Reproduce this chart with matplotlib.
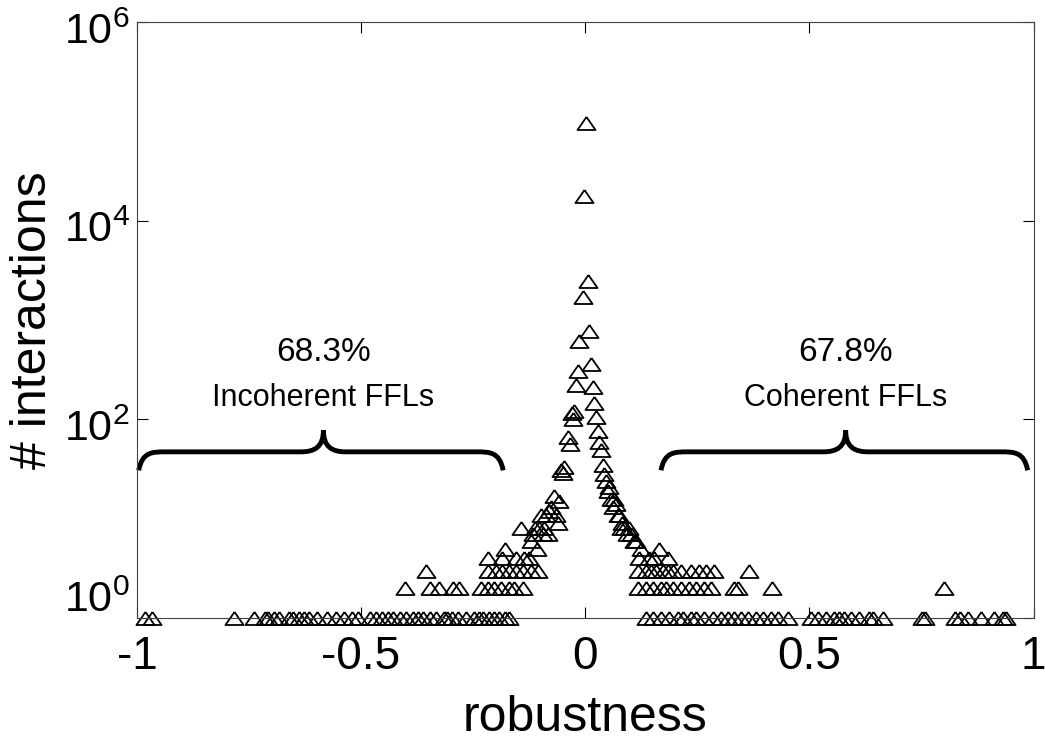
import matplotlib
matplotlib.use("Agg")
import matplotlib.pyplot as plt
import matplotlib.transforms as mtransforms
from matplotlib.path import Path
from matplotlib.patches import PathPatch

plt.rcParams['font.family'] = ['Liberation Sans', 'DejaVu Sans']
plt.rcParams['mathtext.fontset'] = 'custom'
plt.rcParams['mathtext.rm'] = 'Liberation Sans'

# robustness values of bins holding 1, 2 and 3 interactions
rob_1 = [-0.982, -0.967, -0.784, -0.739, -0.715, -0.708, -0.695, -0.682, -0.661, -0.652,
         -0.639, -0.627, -0.615, -0.599, -0.575, -0.555, -0.537, -0.520, -0.506, -0.481,
         -0.467, -0.454, -0.440, -0.428, -0.414, -0.399, -0.383, -0.372, -0.361, -0.347,
         -0.332, -0.316, -0.308, -0.298, -0.283, -0.265, -0.247, -0.238, -0.227, -0.214,
         -0.203, -0.192, -0.180, -0.171,
         0.136, 0.151, 0.169, 0.187, 0.207, 0.218, 0.236, 0.247, 0.265, 0.285,
         0.303, 0.318, 0.332, 0.347, 0.363, 0.381, 0.396, 0.414, 0.430, 0.452,
         0.503, 0.519, 0.537, 0.555, 0.566, 0.577, 0.592, 0.610, 0.633, 0.641,
         0.664, 0.751, 0.757, 0.826, 0.837, 0.853, 0.882, 0.911, 0.931, 0.938]
rob_2 = [-0.401, -0.347, -0.327, -0.294, -0.281, -0.232, -0.216, -0.203, -0.187, -0.171,
         -0.158, -0.138,
         0.118, 0.136, 0.151, 0.169, 0.180, 0.196, 0.214, 0.232, 0.247, 0.265,
         0.281, 0.332, 0.341, 0.416, 0.800]
rob_3 = [-0.356, -0.216, -0.198, -0.185, -0.169, -0.154, -0.138, -0.120, -0.105,
         0.118, 0.136, 0.147, 0.158, 0.174, 0.185, 0.196, 0.214, 0.236, 0.254,
         0.269, 0.287, 0.365]

# bins with larger counts (central peak)
rob_peak = [-0.216, -0.185, -0.178, -0.154, -0.143, -0.136, -0.125, -0.120, -0.116, -0.112,
            -0.107, -0.104, -0.098, -0.094, -0.091, -0.087, -0.082, -0.080, -0.076, -0.069,
            -0.066, -0.060, -0.058, -0.053, -0.049, -0.047, -0.038, -0.034, -0.029, -0.027,
            -0.025, -0.020, -0.016, -0.013, -0.004, -0.002,
            0.002, 0.007, 0.009, 0.013, 0.018, 0.020, 0.024, 0.029, 0.031, 0.036,
            0.040, 0.042, 0.047, 0.051, 0.053, 0.058, 0.062, 0.065, 0.069, 0.073,
            0.076, 0.080, 0.083, 0.087, 0.094, 0.098, 0.102, 0.109, 0.114, 0.120,
            0.125, 0.143, 0.154, 0.165, 0.185]
count_peak = [4, 4, 5, 4, 8, 4, 4, 6, 7, 8,
              5, 8, 11, 7, 8, 11, 7, 12, 13, 17,
              11, 9, 15, 31, 29, 33, 66, 57, 117, 102,
              123, 220, 310, 620, 1700, 18000,
              97000, 2500, 780, 365, 210, 148, 105, 77, 59, 49,
              35, 28, 24, 19, 21, 16, 13, 16, 14, 11,
              11, 8, 9, 8, 7, 8, 7, 6, 6, 4,
              5, 4, 4, 5, 4]

robustness = rob_1 + rob_2 + rob_3 + rob_peak
counts = [1] * len(rob_1) + [2] * len(rob_2) + [3] * len(rob_3) + count_peak

fig = plt.figure(figsize=(10.45, 7.42), dpi=100)
ax = fig.add_axes([0.131, 0.167, 0.858, 0.803])

tri = [(0, 0.72), (-1, -0.72), (1, -0.72), (0, 0.72)]
ax.plot(robustness, counts, linestyle='none', marker=tri, markersize=13,
        markerfacecolor='none', markeredgecolor='black', markeredgewidth=1.3,
        clip_on=False)

ax.set_yscale('log')
ax.set_xlim(-1, 1)
ax.set_ylim(1, 1e6)
ax.set_yticks([1, 1e2, 1e4, 1e6])
ax.yaxis.set_minor_locator(matplotlib.ticker.NullLocator())
ax.set_xticks([-1, -0.5, 0, 0.5, 1])
ax.set_xticklabels(['-1', '-0.5', '0', '0.5', '1'])
ax.tick_params(direction='in', length=8, width=0.8, top=True, right=True)
ax.tick_params(axis='x', pad=12, labelsize=33)
ax.tick_params(axis='y', pad=5, labelsize=31)

# 10^0 label sits a little above its tick, the others a little below
for i, tk in enumerate(ax.yaxis.get_major_ticks()):
    dy = 16 / 72 if i == 0 else -4 / 72
    tk.label1.set_transform(tk.label1.get_transform() +
                            mtransforms.ScaledTranslation(0, dy, fig.dpi_scale_trans))

for s in ax.spines.values():
    s.set_linewidth(0.8)
    s.set_color('#404040')

ax.set_xlabel('robustness', fontsize=36, labelpad=12)
ax.set_ylabel('# interactions', fontsize=36, labelpad=6)

# curly braces
trans = mtransforms.blended_transform_factory(ax.transData, ax.transAxes)


def brace(left, right, mid, y_end=0.248, y_bar=0.279, y_tip=0.315):
    verts = [(left, y_end),
             (left + 0.008, y_bar), (left + 0.03, y_bar), (left + 0.06, y_bar),
             (mid - 0.05, y_bar),
             (mid - 0.02, y_bar), (mid, y_bar + 0.008), (mid, y_tip),
             (mid, y_bar + 0.008), (mid + 0.02, y_bar), (mid + 0.05, y_bar),
             (right - 0.06, y_bar),
             (right - 0.03, y_bar), (right - 0.008, y_bar), (right, y_end)]
    codes = [Path.MOVETO,
             Path.CURVE4, Path.CURVE4, Path.CURVE4,
             Path.LINETO,
             Path.CURVE4, Path.CURVE4, Path.CURVE4,
             Path.CURVE4, Path.CURVE4, Path.CURVE4,
             Path.LINETO,
             Path.CURVE4, Path.CURVE4, Path.CURVE4]
    ax.add_patch(PathPatch(Path(verts, codes), transform=trans, facecolor='none',
                           edgecolor='black', linewidth=3.5, clip_on=False))


brace(-0.996, -0.183, -0.584)
brace(0.169, 0.987, 0.581)

ax.text(-0.584, 0.446, '68.3%', transform=trans, ha='center', va='center', fontsize=24)
ax.text(-0.584, 0.369, 'Incoherent FFLs', transform=trans, ha='center', va='center', fontsize=22)
ax.text(0.581, 0.446, '67.8%', transform=trans, ha='center', va='center', fontsize=24)
ax.text(0.581, 0.369, 'Coherent FFLs', transform=trans, ha='center', va='center', fontsize=22)

fig.savefig('out.png', dpi=100)
